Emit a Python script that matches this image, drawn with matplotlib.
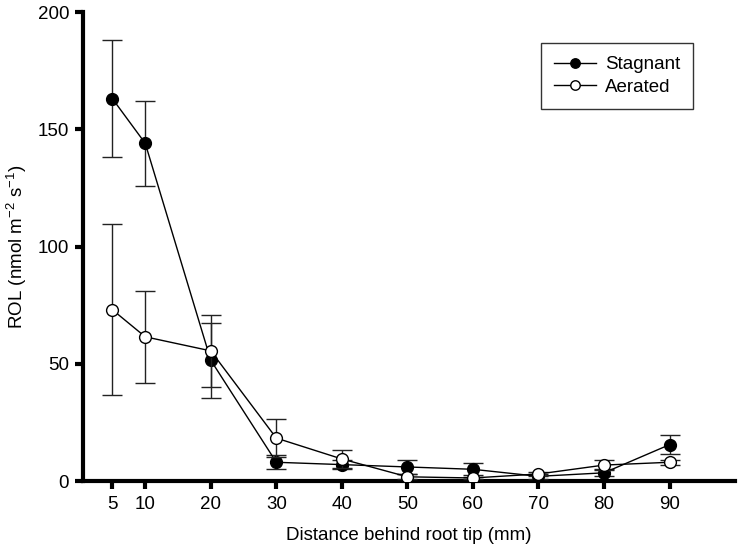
import matplotlib
matplotlib.use("Agg")
import matplotlib.pyplot as plt

plt.rcParams["font.family"] = ["Liberation Sans", "DejaVu Sans"]
plt.rcParams["mathtext.fontset"] = "custom"
plt.rcParams["mathtext.rm"] = "Liberation Sans"
plt.rcParams["mathtext.it"] = "Liberation Sans:italic"
plt.rcParams["mathtext.bf"] = "Liberation Sans:bold"

# distance behind root tip (mm)
distance = [5, 10, 20, 30, 40, 50, 60, 70, 80, 90]

# ROL, stagnant (filled) and aerated (open), with error bars
stagnant = [163, 144, 51.5, 8, 7, 6, 5, 2, 3.5, 15.5]
stagnant_err = [25, 18, 16, 3, 2, 3, 2.5, 1, 1.5, 4]
aerated = [73, 61.5, 55.5, 18.3, 9.4, 1.8, 1.3, 3, 6.8, 8]
aerated_err = [36.5, 19.5, 15.5, 8, 4, 1, 0.5, 1, 2, 1]

xticks = [5, 10, 20, 30, 40, 50, 60, 70, 80, 90]
yticks = [0, 50, 100, 150, 200]

fig = plt.figure(figsize=(7.41, 5.46), dpi=100)
ax = fig.add_axes([0.112, 0.119, 0.88, 0.859])

ax.errorbar(distance, stagnant, yerr=stagnant_err, fmt="o-", color="black",
            mfc="black", mec="black", ms=8.5, lw=1, ecolor="#222222",
            elinewidth=1, capsize=7, capthick=1, label="Stagnant", zorder=3)
ax.errorbar(distance, aerated, yerr=aerated_err, fmt="o-", color="black",
            mfc="white", mec="black", ms=8.5, lw=1, ecolor="#222222",
            elinewidth=1, capsize=7, capthick=1, label="Aerated", zorder=4)

ax.set_xlim(0.5, 100)
ax.set_ylim(0, 200)
ax.set_xticks(xticks)
ax.set_yticks(yticks)

for side in ["top", "right"]:
    ax.spines[side].set_visible(False)
for side in ["left", "bottom"]:
    ax.spines[side].set_linewidth(3)
ax.tick_params(direction="out", width=3, length=6, labelsize=13.5)
ax.tick_params(axis="x", pad=5)
ax.tick_params(axis="y", pad=4)

ax.set_xlabel("Distance behind root tip (mm)", fontsize=13.5, labelpad=10)
ax.set_ylabel(r"ROL (nmol m$^{\mathregular{-2}}$ s$^{\mathregular{-1}}$)",
              fontsize=13.5, labelpad=6)

handles, labels = ax.get_legend_handles_labels()
handles = [h[0] for h in handles]
leg = ax.legend(handles, labels, loc="upper right", bbox_to_anchor=(0.936, 0.934),
                borderaxespad=0, fontsize=13.5, frameon=True, fancybox=False,
                edgecolor="black", handlelength=2.2, borderpad=0.7,
                labelspacing=0.28, handletextpad=0.5, markerscale=0.8)
leg.get_frame().set_linewidth(1)

fig.savefig("out.png", dpi=100)
